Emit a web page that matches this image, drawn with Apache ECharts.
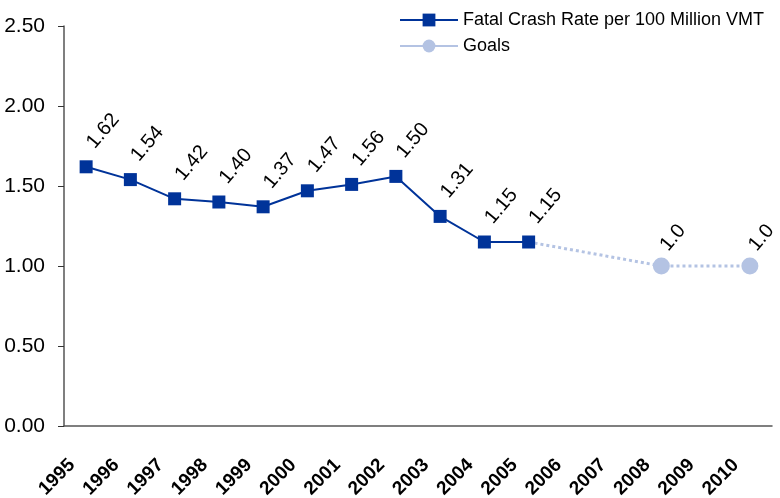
<!DOCTYPE html>
<html>
<head>
<meta charset="utf-8">
<script src="https://cdn.jsdelivr.net/npm/echarts@6/dist/echarts.min.js"></script>
<style>
  html, body { margin: 0; padding: 0; background: #fff; }
  #chart { width: 780px; height: 498px; }
</style>
</head>
<body>
<div id="chart"></div>
<script>
var years = ['1995', '1996', '1997', '1998', '1999', '2000', '2001', '2002',
    '2003', '2004', '2005', '2006', '2007', '2008', '2009', '2010'];
// fatal crash rate per 100 million VMT, as plotted
var crashRate = [1.62, 1.54, 1.42, 1.40, 1.37, 1.47, 1.51, 1.56, 1.31, 1.15, 1.15,
    null, null, null, null, null];
// labels printed above the points (as shown in the source)
var crashLabels = ['1.62', '1.54', '1.42', '1.40', '1.37', '1.47', '1.56', '1.50',
    '1.31', '1.15', '1.15'];
// goals: dotted line starts at the 2005 value
var goals = [null, null, null, null, null, null, null, null, null, null, 1.15,
    null, null, 1.0, null, 1.0];
var goalLabels = { 13: '1.0', 15: '1.0' };
var yTicks = [0, 0.5, 1.0, 1.5, 2.0, 2.5];

var FONT = '"Liberation Sans Narrow", "Arial Narrow", "Liberation Sans", sans-serif';
var chart = echarts.init(document.getElementById('chart'));

var goalData = goals.map(function (v, i) {
    if (v === null) return null;
    if (i === 10) return { value: v, symbol: 'none', label: { show: false } };
    return v;
});

var option = {
    animation: false,
    textStyle: { fontFamily: FONT },
    grid: {
        left: 64, right: 8, top: 26, bottom: 72,
        containLabel: false,
        outerBoundsMode: 'none'
    },
    legend: {
        orient: 'vertical',
        left: 394,
        top: 6,
        itemWidth: 58,
        itemHeight: 16,
        itemGap: 8,
        textStyle: { fontFamily: FONT, fontSize: 18, color: '#000' },
        data: [
            { name: 'Fatal Crash Rate per 100 Million VMT' },
            { name: 'Goals', lineStyle: { type: 'solid' } }
        ]
    },
    xAxis: {
        type: 'category',
        data: years,
        boundaryGap: true,
        axisLine: { lineStyle: { color: '#555', width: 1.5 } },
        axisTick: { length: 7, lineStyle: { color: '#333' } },
        axisLabel: {
            rotate: 45,
            interval: 0,
            margin: 22,
            padding: [0, 20, 0, 0],
            fontFamily: FONT,
            fontSize: 19,
            fontWeight: 'bold',
            color: '#000'
        }
    },
    yAxis: {
        type: 'value',
        min: yTicks[0],
        max: yTicks[yTicks.length - 1],
        interval: 0.5,
        splitLine: { show: false },
        axisLine: { show: true, lineStyle: { color: '#555', width: 1.5 } },
        axisTick: { show: true, length: 6, lineStyle: { color: '#333' } },
        axisLabel: {
            margin: 19,
            fontFamily: FONT,
            fontSize: 21,
            color: '#000',
            formatter: function (v) { return v.toFixed(2); }
        }
    },
    series: [
        {
            name: 'Goals',
            type: 'line',
            data: goalData,
            connectNulls: true,
            symbol: 'circle',
            symbolSize: 17,
            z: 1,
            itemStyle: { color: '#b4c3e3' },
            lineStyle: { color: '#b4c3e3', width: 3, type: 'dotted' },
            label: {
                show: true,
                position: 'top',
                distance: 6,
                offset: [4, 0],
                rotate: 50,
                align: 'left',
                verticalAlign: 'middle',
                fontFamily: FONT,
                fontSize: 20,
                color: '#000',
                formatter: function (p) { return goalLabels[p.dataIndex] || ''; }
            }
        },
        {
            name: 'Fatal Crash Rate per 100 Million VMT',
            type: 'line',
            data: crashRate,
            symbol: 'rect',
            symbolSize: 13,
            z: 3,
            itemStyle: { color: '#003399' },
            lineStyle: { color: '#003399', width: 2 },
            label: {
                show: true,
                position: 'top',
                distance: 9,
                offset: [7, 0],
                rotate: 50,
                align: 'left',
                verticalAlign: 'middle',
                fontFamily: FONT,
                fontSize: 20,
                color: '#000',
                formatter: function (p) { return crashLabels[p.dataIndex]; }
            }
        }
    ]
};

option && chart.setOption(option);
</script>
</body>
</html>
